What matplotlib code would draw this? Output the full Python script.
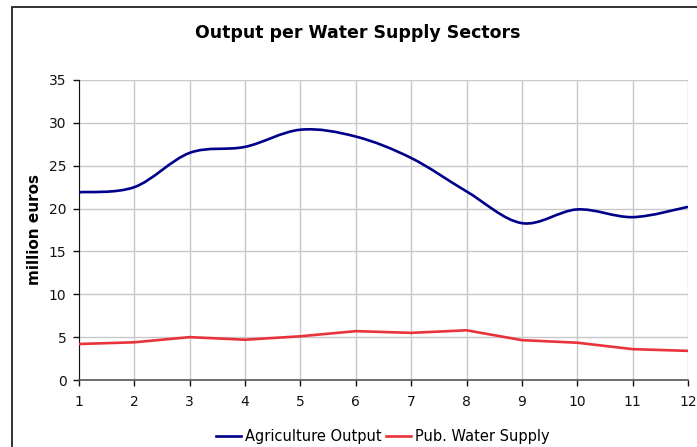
import numpy as np
import matplotlib
matplotlib.use("Agg")
import matplotlib.pyplot as plt
from matplotlib.path import Path
from matplotlib.patches import PathPatch, Rectangle
from matplotlib.lines import Line2D

months = [1, 2, 3, 4, 5, 6, 7, 8, 9, 10, 11, 12]
agriculture = [21.9, 22.5, 26.5, 27.2, 29.2, 28.4, 25.9, 22.0, 18.3, 19.9, 19.0, 20.2]
pub_water = [4.2, 4.4, 5.0, 4.7, 5.1, 5.7, 5.5, 5.8, 4.65, 4.35, 3.6, 3.4]

blue = "#00008b"
red = "#e8333b"

plt.rcParams["font.family"] = ["DejaVu Sans"]


def smooth_path(x, y):
    # Excel-like smoothed line: cubic bezier through each point
    pts = np.column_stack([x, y]).astype(float)
    n = len(pts)
    verts = [pts[0]]
    codes = [Path.MOVETO]
    for i in range(n - 1):
        p0 = pts[i - 1] if i > 0 else pts[i]
        p1 = pts[i]
        p2 = pts[i + 1]
        p3 = pts[i + 2] if i + 2 < n else pts[i + 1]
        c1 = p1 + (p2 - p0) / 6.0
        c2 = p2 - (p3 - p1) / 6.0
        verts += [c1, c2, p2]
        codes += [Path.CURVE4] * 3
    return Path(verts, codes)


fig = plt.figure(figsize=(6.97, 4.47), dpi=100)
ax = fig.add_axes([79 / 697, 1 - 380 / 447, 609 / 697, 300 / 447])

# outer chart frame
fig.patches.append(Rectangle((12 / 697, -0.1), 1.0, 1 - 7 / 447 + 0.1,
                             transform=fig.transFigure, fill=False,
                             edgecolor="#222222", linewidth=1.3, zorder=0))

ax.add_patch(PathPatch(smooth_path(months, agriculture), fill=False,
                       edgecolor=blue, linewidth=1.9, zorder=3))
ax.plot(months, pub_water, color=red, linewidth=1.9, zorder=3)

ax.set_xlim(1, 12)
ax.set_ylim(0, 35)
ax.set_xticks(months)
ax.set_yticks(range(0, 36, 5))
ax.grid(True, color="#c8c8c8", linewidth=1.0)
ax.set_axisbelow(True)
for s in ["top", "right"]:
    ax.spines[s].set_visible(False)
ax.spines["left"].set_color("#111111")
ax.spines["bottom"].set_color("#555555")
ax.spines["bottom"].set_linewidth(1.2)
ax.tick_params(direction="out", length=4, width=1, labelsize=10, colors="#111111", pad=5)
ax.tick_params(axis="x", pad=7)

ax.set_ylabel("million euros", fontsize=11, fontweight="bold", labelpad=5)
fig.text(358 / 697, 1 - 33 / 447, "Output per Water Supply Sectors",
         ha="center", va="center", fontsize=12.5, fontweight="bold")

handles = [Line2D([], [], color=blue, linewidth=1.9),
           Line2D([], [], color=red, linewidth=1.9)]
fig.legend(handles, ["Agriculture Output", "Pub. Water Supply"],
           loc="center", bbox_to_anchor=(383 / 697, 1 - 437 / 447), ncol=2,
           frameon=False, fontsize=10.5, handlelength=1.7, handletextpad=0.3,
           columnspacing=0.3)

fig.savefig("out.png", dpi=100)
